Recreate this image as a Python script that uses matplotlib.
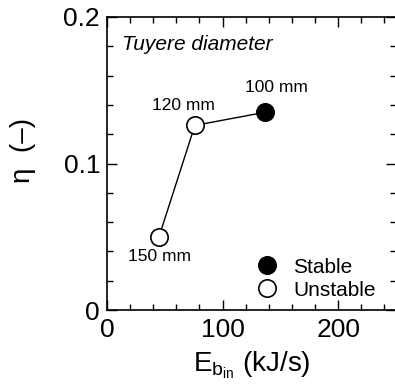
import matplotlib
matplotlib.use("Agg")
import matplotlib.pyplot as plt
from matplotlib.ticker import MultipleLocator
from matplotlib.lines import Line2D

plt.rcParams['font.family'] = ['Liberation Sans', 'DejaVu Sans']

labels = ["150 mm", "120 mm", "100 mm"]
energy = [45, 76, 137]
eta = [0.050, 0.126, 0.135]
stable = [False, False, True]

W, H = 395, 389
fig = plt.figure(figsize=(W/100, H/100), dpi=100)
ax = fig.add_axes([107/W, 1-310/H, (396-107)/W, (310-17)/H])

ax.plot(energy, eta, color='black', lw=1.0, zorder=1)
for x, y, s in zip(energy, eta, stable):
    ax.plot(x, y, 'o', ms=12.5, mfc='black' if s else 'white', mec='black', mew=1.2, zorder=2)

ax.annotate(labels[0], (energy[0], eta[0]), xytext=(0, -14), textcoords='offset points',
            ha='center', va='center', fontsize=12.5)
ax.annotate(labels[1], (energy[1], eta[1]), xytext=(-8, 14), textcoords='offset points',
            ha='center', va='center', fontsize=12.5)
ax.annotate(labels[2], (energy[2], eta[2]), xytext=(8, 17.5), textcoords='offset points',
            ha='center', va='center', fontsize=12.5)

ax.text(0.053, 0.905, "Tuyere diameter", transform=ax.transAxes, style='italic',
        fontsize=15, ha='left', va='center')

ax.set_xlim(0, 250)
ax.set_ylim(0, 0.2)
ax.xaxis.set_major_locator(MultipleLocator(100))
ax.xaxis.set_minor_locator(MultipleLocator(20))
ax.yaxis.set_major_locator(MultipleLocator(0.1))
ax.yaxis.set_minor_locator(MultipleLocator(0.02))
ax.set_xticks([0, 100, 200])
ax.set_xticklabels(["0", "100", "200"])
ax.set_yticks([0, 0.1, 0.2])
ax.set_yticklabels(["0", "0.1", "0.2"])
ax.tick_params(which='both', direction='in', top=True, right=True, labelsize=19, width=1)
ax.tick_params(which='major', length=7)
ax.tick_params(which='minor', length=4)
ax.tick_params(axis='x', pad=6)
ax.tick_params(axis='y', pad=5)
for sp in ax.spines.values():
    sp.set_linewidth(1.2)

ax.set_xlabel(r"E$_{\mathregular{b_{in}}}$ (kJ/s)", fontsize=20, labelpad=5)
ax.set_ylabel("η  (–)", fontsize=20)
ax.yaxis.set_label_coords(-0.245, 0.545)

handles = [Line2D([], [], marker='o', ls='none', ms=12.5, mfc='black', mec='black', mew=1.2),
           Line2D([], [], marker='o', ls='none', ms=12.5, mfc='white', mec='black', mew=1.2)]
ax.legend(handles, ["Stable", "Unstable"], loc='lower right', bbox_to_anchor=(0.93, 0.035),
          frameon=False, fontsize=15, handlelength=1.0, handletextpad=0.75,
          labelspacing=0.2, borderpad=0.0, borderaxespad=0.0)

fig.savefig("out.png", dpi=100)
